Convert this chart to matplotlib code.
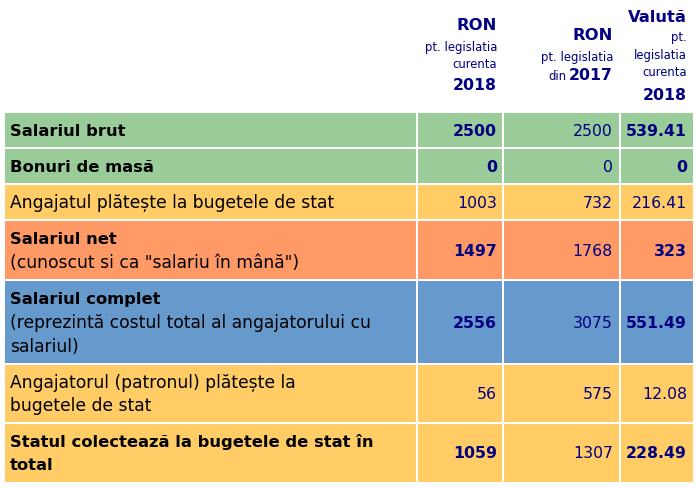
import matplotlib.pyplot as plt
from matplotlib.patches import Rectangle

# date din tabel
row_labels = [
    'Salariul brut',
    'Bonuri de masă',
    'Angajatul plătește la bugetele de stat',
    'Salariul net\n(cunoscut si ca "salariu în mână")',
    'Salariul complet\n(reprezintă costul total al angajatorului cu\nsalariul)',
    'Angajatorul (patronul) plătește la\nbugetele de stat',
    'Statul colectează la bugetele de stat în\ntotal',
]
bold_lines = [1, 1, 0, 1, 1, 0, 2]
row_colors = ['#99cc99', '#99cc99', '#ffcc66', '#ff9966', '#6699cc', '#ffcc66', '#ffcc66']
bold_values = [True, True, False, True, True, False, True]

ron_2018 = ['2500', '0', '1003', '1497', '2556', '56', '1059']
ron_2017 = ['2500', '0', '732', '1768', '3075', '575', '1307']
valuta_2018 = ['539.41', '0', '216.41', '323', '551.49', '12.08', '228.49']

navy = '#000080'

# geometrie in pixeli
col_edges = [(5, 416), (418, 502), (504, 619), (621, 693)]
row_edges = [(114, 148), (150, 184), (186, 220), (222, 280),
             (282, 364), (366, 423), (425, 483)]
line_h = 23.5

fig = plt.figure(figsize=(6.96, 4.89), dpi=100)
ax = fig.add_axes([0, 0, 1, 1])
ax.set_xlim(0, 696)
ax.set_ylim(489, 0)
ax.axis('off')

fs_lab = 12.3
fs_lab_bold = 11.8
fs_num = 11.3
fs_small = 8.4
fs_head = 11.8

for i, (y0, y1) in enumerate(row_edges):
    for (x0, x1) in col_edges:
        ax.add_patch(Rectangle((x0, y0), x1 - x0, y1 - y0, color=row_colors[i], lw=0))
    yc = (y0 + y1) / 2
    lines = row_labels[i].split('\n')
    n = len(lines)
    for k, line in enumerate(lines):
        is_bold = k < bold_lines[i]
        ax.text(10, yc + (k - (n - 1) / 2) * line_h, line,
                fontsize=fs_lab_bold if is_bold else fs_lab,
                fontweight='bold' if is_bold else 'normal',
                ha='left', va='center', color='black')
    w = 'bold' if bold_values[i] else 'normal'
    ax.text(497, yc, ron_2018[i], fontsize=fs_num, fontweight=w, ha='right', va='center', color=navy)
    ax.text(613, yc, ron_2017[i], fontsize=fs_num, ha='right', va='center', color=navy)
    ax.text(687, yc, valuta_2018[i], fontsize=fs_num, fontweight=w, ha='right', va='center', color=navy)

# antet
ax.text(497, 26, 'RON', fontsize=fs_head, fontweight='bold', ha='right', va='center', color=navy)
ax.text(497, 48, 'pt. legislatia', fontsize=fs_small, ha='right', va='center', color=navy)
ax.text(497, 65, 'curenta', fontsize=fs_small, ha='right', va='center', color=navy)
ax.text(497, 86, '2018', fontsize=fs_num, fontweight='bold', ha='right', va='center', color=navy)

ax.text(613, 35, 'RON', fontsize=fs_head, fontweight='bold', ha='right', va='center', color=navy)
ax.text(613, 57, 'pt. legislatia', fontsize=fs_small, ha='right', va='center', color=navy)
t = ax.text(613, 76, '2017', fontsize=fs_num, fontweight='bold', ha='right', va='center', color=navy)
bb = t.get_window_extent(fig.canvas.get_renderer())
x_din = ax.transData.inverted().transform((bb.x0, 0))[0] - 3
ax.text(x_din, 77, 'din', fontsize=fs_small, ha='right', va='center', color=navy)

ax.text(687, 17, 'Valută', fontsize=fs_head, fontweight='bold', ha='right', va='center', color=navy)
ax.text(687, 38, 'pt.', fontsize=fs_small, ha='right', va='center', color=navy)
ax.text(687, 56, 'legislatia', fontsize=fs_small, ha='right', va='center', color=navy)
ax.text(687, 73, 'curenta', fontsize=fs_small, ha='right', va='center', color=navy)
ax.text(687, 95, '2018', fontsize=fs_num, fontweight='bold', ha='right', va='center', color=navy)

fig.savefig('out.png', dpi=100)
